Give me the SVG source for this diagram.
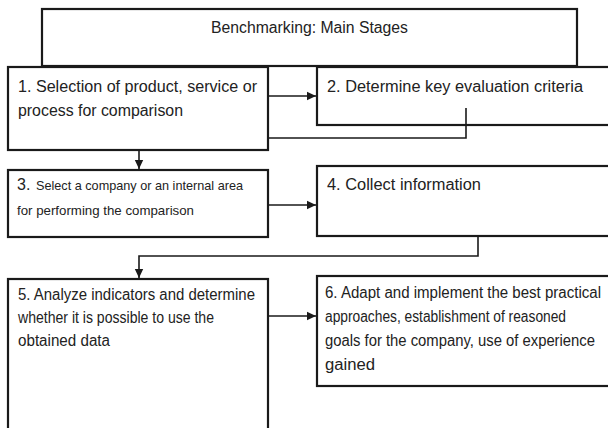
<svg xmlns="http://www.w3.org/2000/svg" width="608" height="428" viewBox="0 0 608 428">
<style>
.box{fill:#fff;stroke:#1a1a1a;stroke-width:2.2}
.t{font-family:"Liberation Sans",Arial,sans-serif;font-size:16px;fill:#222}
.s{font-size:13px}
.c{fill:none;stroke:#1a1a1a;stroke-width:1.6}
</style>
<defs>
<marker id="ah" markerWidth="10" markerHeight="10" refX="9" refY="5" orient="auto" markerUnits="userSpaceOnUse">
<path d="M0,0.8 L9,5 L0,9.2 Z" fill="#1a1a1a"/>
</marker>
</defs>
<rect width="608" height="428" fill="#fff"/>
<g id="title">
<rect class="box" x="42" y="9" width="535" height="57"/>
<text class="t" x="211" y="33" textLength="197" lengthAdjust="spacingAndGlyphs">Benchmarking: Main Stages</text>
</g>
<g id="n1">
<rect class="box" x="8" y="67" width="260" height="83"/>
<text class="t" x="18" y="92" textLength="239" lengthAdjust="spacingAndGlyphs">1. Selection of product, service or</text>
<text class="t" x="18" y="116" textLength="165" lengthAdjust="spacingAndGlyphs">process for comparison</text>
</g>
<g id="n2">
<rect class="box" x="317" y="67" width="295" height="58"/>
<text class="t" x="327" y="92" textLength="256" lengthAdjust="spacingAndGlyphs">2. Determine key evaluation criteria</text>
</g>
<g id="n3">
<rect class="box" x="8" y="170" width="260" height="67"/>
<text class="t" x="17" y="190">3.<tspan class="s" x="36" textLength="207" lengthAdjust="spacingAndGlyphs">Select a company or an internal area</tspan></text>
<text class="t s" x="17" y="215" textLength="177" lengthAdjust="spacingAndGlyphs">for performing the comparison</text>
</g>
<g id="n4">
<rect class="box" x="317" y="166" width="295" height="70"/>
<text class="t" x="327" y="190" textLength="154" lengthAdjust="spacingAndGlyphs">4. Collect information</text>
</g>
<g id="n5">
<rect class="box" x="8" y="279" width="260" height="160"/>
<text class="t" x="18" y="300" textLength="237" lengthAdjust="spacingAndGlyphs">5. Analyze indicators and determine</text>
<text class="t" x="18" y="323" textLength="196" lengthAdjust="spacingAndGlyphs">whether it is possible to use the</text>
<text class="t" x="18" y="346" textLength="92" lengthAdjust="spacingAndGlyphs">obtained data</text>
</g>
<g id="n6">
<rect class="box" x="317" y="276" width="295" height="110"/>
<text class="t" x="325" y="298" textLength="276" lengthAdjust="spacingAndGlyphs">6. Adapt and implement the best practical</text>
<text class="t" x="325" y="322" textLength="241" lengthAdjust="spacingAndGlyphs">approaches, establishment of reasoned</text>
<text class="t" x="325" y="346" textLength="270" lengthAdjust="spacingAndGlyphs">goals for the company, use of experience</text>
<text class="t" x="325" y="370" textLength="50" lengthAdjust="spacingAndGlyphs">gained</text>
</g>
<g id="connectors">
<path class="c" d="M268,96 H316" marker-end="url(#ah)"/>
<path class="c" d="M466,108 V138 H268"/>
<path class="c" d="M139,150 V169" marker-end="url(#ah)"/>
<path class="c" d="M268,205 H316" marker-end="url(#ah)"/>
<path class="c" d="M478,236 V256 H139 V278" marker-end="url(#ah)"/>
<path class="c" d="M268,316 H316" marker-end="url(#ah)"/>
</g>
</svg>
